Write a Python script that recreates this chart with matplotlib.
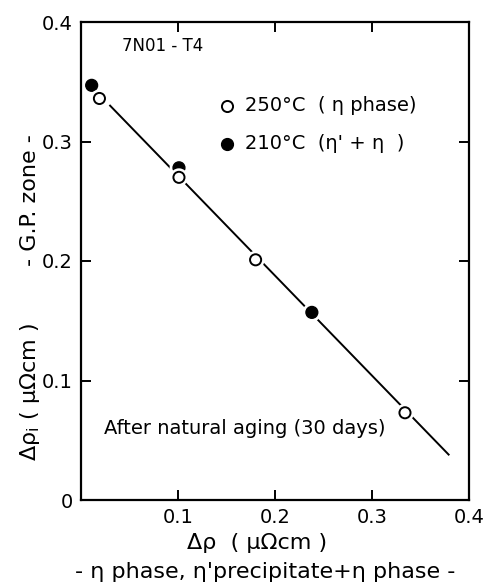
"""
Resistivity change of the GP zone vs precipitate phase for 7N01-T4.
"""
import matplotlib.pyplot as plt
import matplotlib.patheffects as pe

# data
open_x = [0.019, 0.101, 0.180, 0.334]       # 250 C (eta phase)
open_y = [0.336, 0.270, 0.201, 0.073]
filled_x = [0.011, 0.101, 0.238]            # 210 C (eta' + eta)
filled_y = [0.347, 0.278, 0.157]
fit_x = [0.030, 0.379]                      # straight line through the points
fit_y = [0.330, 0.038]

x_ticks = [0.1, 0.2, 0.3, 0.4]
y_ticks = [0, 0.1, 0.2, 0.3, 0.4]

plt.rcParams['font.family'] = ['DejaVu Sans']

fig = plt.figure(figsize=(4.86, 5.85), dpi=100)
ax = fig.add_axes([81 / 486, 85 / 585, 388 / 486, 478 / 585])

ax.plot(fit_x, fit_y, color='black', lw=1.4, zorder=1)

# white halo so the line stops short of each marker
halo = [pe.Stroke(linewidth=5, foreground='white'), pe.Normal()]
ax.plot(open_x, open_y, 'o', ms=8, mfc='white', mec='black', mew=1.4,
        zorder=3, path_effects=halo)
ax.plot(filled_x, filled_y, 'o', ms=8.5, mfc='black', mec='black', mew=1.0,
        zorder=2, path_effects=halo)

ax.set_xlim(0, 0.4)
ax.set_ylim(0, 0.4)
ax.set_xticks(x_ticks)
ax.set_xticklabels(['0.1', '0.2', '0.3', '0.4'])
ax.set_yticks(y_ticks)
ax.set_yticklabels(['0', '0.1', '0.2', '0.3', '0.4'])
ax.tick_params(direction='in', length=7, width=1.4, labelsize=14,
               top=True, right=True, pad=6)
for s in ax.spines.values():
    s.set_linewidth(1.6)

# legend drawn by hand as in the original
ax.plot([0.150], [0.330], 'o', ms=8, mfc='white', mec='black', mew=1.4)
ax.plot([0.150], [0.298], 'o', ms=8.5, mfc='black', mec='black')
ax.text(0.169, 0.330, '250°C  ( η phase)', fontsize=14, va='center')
ax.text(0.169, 0.298, "210°C  (η' + η  )", fontsize=14, va='center')

ax.text(0.042, 0.380, '7N01 - T4', fontsize=12, va='center')
ax.text(0.024, 0.060, 'After natural aging (30 days)', fontsize=14,
        va='center')

# axis labels
fig.text(30 / 486, 1 - 392 / 585, 'Δρ$_{\\rm i}$ ( μΩcm )', rotation=90,
         ha='center', va='center', fontsize=16)
fig.text(30 / 486, 1 - 200 / 585, '- G.P. zone -', rotation=90,
         ha='center', va='center', fontsize=16)
fig.text(257 / 486, 1 - 543 / 585, 'Δρ  ( μΩcm )', ha='center', va='center',
         fontsize=16)
fig.text(265 / 486, 1 - 572 / 585, "- η phase, η'precipitate+η phase -",
         ha='center', va='center', fontsize=16)

fig.savefig('out.png', dpi=100)
